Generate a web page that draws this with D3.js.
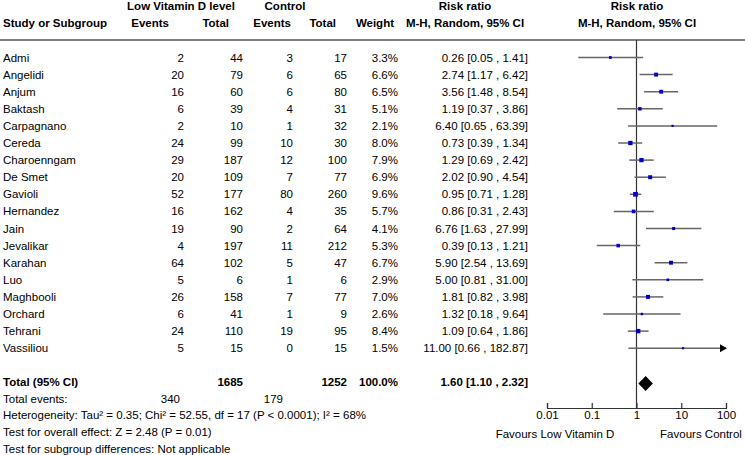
<!DOCTYPE html>
<html>
<head>
<meta charset="utf-8">
<script src="https://cdn.jsdelivr.net/npm/d3@7"></script>
<style>
  html, body { margin: 0; padding: 0; background: #fff; }
  svg { display: block; font-family: "Liberation Sans", Arial, Helvetica, sans-serif; }
</style>
</head>
<body>
<svg id="chart" width="745" height="455"></svg>
<script>
// ---------------- DATA ----------------
const studies = ["Admi","Angelidi","Anjum","Baktash","Carpagnano","Cereda","Charoenngam","De Smet","Gavioli","Hernandez","Jain","Jevalikar","Karahan","Luo","Maghbooli","Orchard","Tehrani","Vassiliou"];
const lowEvents = [2,20,16,6,2,24,29,20,52,16,19,4,64,5,26,6,24,5];
const lowTotal = [44,79,60,39,10,99,187,109,177,162,90,197,102,6,158,41,110,15];
const ctrlEvents = [3,6,6,4,1,10,12,7,80,4,2,11,5,1,7,1,19,0];
const ctrlTotal = [17,65,80,31,32,30,100,77,260,35,64,212,47,6,77,9,95,15];
const weights = [3.3,6.6,6.5,5.1,2.1,8.0,7.9,6.9,9.6,5.7,4.1,5.3,6.7,2.9,7.0,2.6,8.4,1.5];
const rr = [0.26,2.74,3.56,1.19,6.40,0.73,1.29,2.02,0.95,0.86,6.76,0.39,5.90,5.00,1.81,1.32,1.09,11.00];
const ciLow = [0.05,1.17,1.48,0.37,0.65,0.39,0.69,0.90,0.71,0.31,1.63,0.13,2.54,0.81,0.82,0.18,0.64,0.66];
const ciHigh = [1.41,6.42,8.54,3.86,63.39,1.34,2.42,4.54,1.28,2.43,27.99,1.21,13.69,31.00,3.98,9.64,1.86,182.87];
const total = {lowTotal: 1685, ctrlTotal: 1252, weight: "100.0%", rr: 1.60, lo: 1.10, hi: 2.32};
const totalEvents = [340, 179];
const axisTicks = [0.01, 0.1, 1, 10, 100];
const footerLines = [
  "Heterogeneity: Tau² = 0.35; Chi² = 52.55, df = 17 (P < 0.0001); I² = 68%",
  "Test for overall effect: Z = 2.48 (P = 0.01)",
  "Test for subgroup differences: Not applicable"
];

// ---------------- LAYOUT ----------------
const svg = d3.select("#chart");
const FS = 11.5;
const x = d3.scaleLog().domain([0.01, 100]).range([547, 726]);
const y = d3.scaleLinear().domain([0, 1]).range([57.5, 74.6]); // row index -> y center
const col = {name: 3, lowE: 184, lowT: 243, ctrlE: 293, ctrlT: 347, weight: 398, ci: 528};
const fmt2 = d3.format(".2f");

function txt(g, xx, yy, s, opts = {}) {
  return g.append("text")
    .attr("x", xx).attr("y", yy).attr("dy", "0.35em")
    .attr("font-size", opts.size || FS)
    .attr("font-weight", opts.bold ? "bold" : "normal")
    .attr("text-anchor", opts.anchor || "start")
    .attr("fill", "#000")
    .text(s);
}

// Headers
const H = svg.append("g");
txt(H, 181, 6, "Low Vitamin D level", {bold: true, anchor: "middle"});
txt(H, 285, 6, "Control", {bold: true, anchor: "middle"});
txt(H, 465, 6, "Risk ratio", {bold: true, anchor: "middle"});
txt(H, 637, 6, "Risk ratio", {bold: true, anchor: "middle"});
txt(H, 3, 23, "Study or Subgroup", {bold: true});
txt(H, 169, 23, "Events", {bold: true, anchor: "end"});
txt(H, 229, 23, "Total", {bold: true, anchor: "end"});
txt(H, 291, 23, "Events", {bold: true, anchor: "end"});
txt(H, 336, 23, "Total", {bold: true, anchor: "end"});
txt(H, 394, 23, "Weight", {bold: true, anchor: "end"});
txt(H, 465, 23, "M-H, Random, 95% CI", {bold: true, anchor: "middle"});
txt(H, 637, 23, "M-H, Random, 95% CI", {bold: true, anchor: "middle"});

svg.append("line").attr("x1", 0).attr("x2", 745).attr("y1", 40).attr("y2", 40)
  .attr("stroke", "#555").attr("stroke-width", 1.5);

// Study rows
const R = svg.append("g");
studies.forEach((s, i) => {
  const yy = y(i);
  txt(R, col.name, yy, s);
  txt(R, col.lowE, yy, lowEvents[i], {anchor: "end"});
  txt(R, col.lowT, yy, lowTotal[i], {anchor: "end"});
  txt(R, col.ctrlE, yy, ctrlEvents[i], {anchor: "end"});
  txt(R, col.ctrlT, yy, ctrlTotal[i], {anchor: "end"});
  txt(R, col.weight, yy, weights[i].toFixed(1) + "%", {anchor: "end"});
  txt(R, col.ci, yy, `${fmt2(rr[i])} [${fmt2(ciLow[i])} , ${fmt2(ciHigh[i])}]`, {anchor: "end"});
});

// Total rows
const tRow = 19;
const yF = d3.scaleLinear().domain([0, 1]).range([398.5, 415.2]); // footer line index -> y
txt(R, col.name, y(tRow), "Total (95% CI)", {bold: true});
txt(R, col.lowT, y(tRow), total.lowTotal, {bold: true, anchor: "end"});
txt(R, col.ctrlT, y(tRow), total.ctrlTotal, {bold: true, anchor: "end"});
txt(R, col.weight, y(tRow), total.weight, {bold: true, anchor: "end"});
txt(R, col.ci, y(tRow), `${fmt2(total.rr)} [${fmt2(total.lo)} , ${fmt2(total.hi)}]`, {bold: true, anchor: "end"});
txt(R, col.name, yF(0), "Total events:");
txt(R, 180, yF(0), totalEvents[0], {anchor: "end"});
txt(R, 283, yF(0), totalEvents[1], {anchor: "end"});
footerLines.forEach((l, k) => txt(R, col.name, yF(k + 1), l));

// ---------------- FOREST PLOT ----------------
const P = svg.append("g");
const axisY = 408;
P.append("line").attr("x1", x(1)).attr("x2", x(1)).attr("y1", 40).attr("y2", axisY)
  .attr("stroke", "#333").attr("stroke-width", 1.2);

const [dMin, dMax] = x.domain();
const sq = d3.scaleSqrt().domain([0, 10]).range([0, 4.8]);
studies.forEach((s, i) => {
  const yy = y(i);
  const lo = Math.max(ciLow[i], dMin), hi = Math.min(ciHigh[i], dMax);
  P.append("line").attr("x1", x(lo)).attr("x2", x(hi)).attr("y1", yy).attr("y2", yy)
    .attr("stroke", "#666").attr("stroke-width", 1.5);
  if (ciHigh[i] > dMax) {
    const xe = x(dMax);
    P.append("path").attr("d", `M${xe - 6},${yy - 4}L${xe + 1},${yy}L${xe - 6},${yy + 4}Z`).attr("fill", "#000");
  }
  const s2 = Math.max(sq(weights[i]), 2.2);
  P.append("rect").attr("x", x(rr[i]) - s2 / 2).attr("y", yy - s2 / 2)
    .attr("width", s2).attr("height", s2).attr("fill", "#0000c8");
});

// diamond
const yt = y(tRow) + 1;
P.append("path")
  .attr("d", `M${x(total.lo)},${yt}L${x(total.rr)},${yt - 7.5}L${x(total.hi)},${yt}L${x(total.rr)},${yt + 7.5}Z`)
  .attr("fill", "#000");

// axis
const ax = P.append("g").attr("transform", `translate(0,${axisY})`)
  .call(d3.axisBottom(x).tickValues(axisTicks).tickSize(-5).tickPadding(3)
    .tickFormat(d => String(d)));
ax.select(".domain").attr("stroke", "#333").attr("stroke-width", 1.2);
ax.selectAll(".tick line").attr("stroke", "#333").attr("stroke-width", 1.2);
ax.selectAll("text").attr("font-size", 11.5).attr("font-family", "Liberation Sans, Arial, sans-serif").attr("fill", "#000");

txt(P, 555, 434, "Favours Low Vitamin D", {anchor: "middle", size: 11.5});
txt(P, 701, 434, "Favours Control", {anchor: "middle", size: 11.5});
</script>
</body>
</html>
